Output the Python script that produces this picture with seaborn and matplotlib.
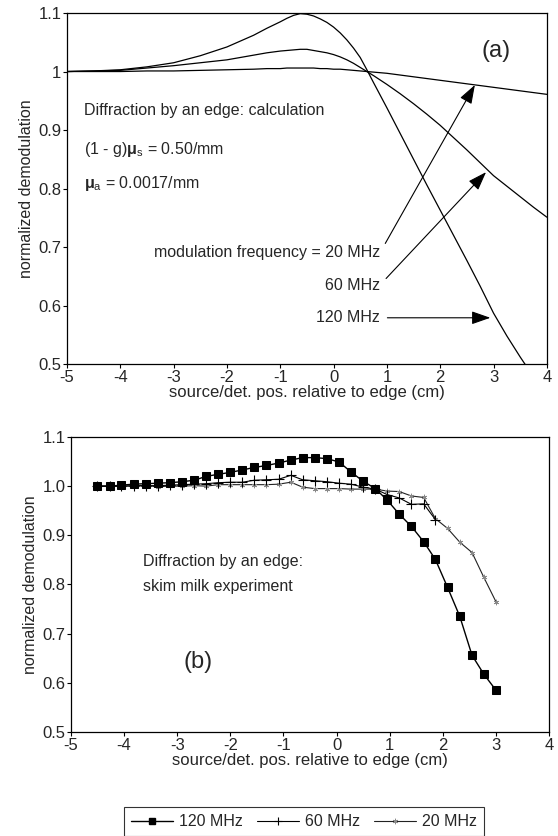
import matplotlib
matplotlib.use('Agg')
import matplotlib.pyplot as plt
import seaborn as sns
from matplotlib.lines import Line2D

# (a) calculated curves
calc_x = [-5, -4.5, -4, -3.5, -3, -2.5, -2, -1.5, -1.25, -1, -0.875, -0.75, -0.625, -0.5,
          -0.375, -0.25, -0.125, 0, 0.125, 0.25, 0.375, 0.5, 0.625, 0.75, 1, 1.25, 1.5, 1.75,
          2, 2.25, 2.5, 2.75, 3, 3.25, 3.5, 3.75, 4]
calc_120 = [1.000, 1.001, 1.003, 1.008, 1.015, 1.027, 1.042, 1.062, 1.074, 1.085, 1.091, 1.096,
            1.099, 1.098, 1.095, 1.090, 1.084, 1.076, 1.066, 1.054, 1.040, 1.024, 1.003, 0.981,
            0.938, 0.894, 0.850, 0.806, 0.763, 0.720, 0.677, 0.633, 0.587, 0.548, 0.512, 0.478,
            0.445]
calc_60 = [1.000, 1.001, 1.002, 1.006, 1.010, 1.015, 1.020, 1.028, 1.032, 1.035, 1.036, 1.037,
           1.038, 1.038, 1.036, 1.034, 1.032, 1.029, 1.025, 1.020, 1.014, 1.007, 1.000, 0.993,
           0.978, 0.962, 0.945, 0.927, 0.908, 0.887, 0.866, 0.844, 0.822, 0.804, 0.786, 0.768,
           0.751]
calc_20 = [1.000, 1.000, 1.000, 1.001, 1.001, 1.002, 1.003, 1.004, 1.005, 1.005, 1.006, 1.006,
           1.006, 1.006, 1.006, 1.005, 1.005, 1.004, 1.004, 1.003, 1.002, 1.001, 1.000, 0.999,
           0.997, 0.994, 0.991, 0.988, 0.985, 0.982, 0.979, 0.976, 0.973, 0.970, 0.967, 0.964,
           0.961]

# (b) skim milk experiment
exp_x = [-4.50, -4.27, -4.05, -3.82, -3.59, -3.36, -3.14, -2.91, -2.68, -2.45, -2.23, -2.00,
         -1.77, -1.55, -1.32, -1.09, -0.86, -0.64, -0.41, -0.18, 0.05, 0.27, 0.50, 0.73, 0.95,
         1.18, 1.41, 1.64, 1.86, 2.09, 2.32, 2.55, 2.77, 3.00]
exp_120 = [1.000, 1.000, 1.002, 1.004, 1.005, 1.006, 1.007, 1.009, 1.012, 1.020, 1.024, 1.028,
           1.033, 1.038, 1.042, 1.047, 1.053, 1.058, 1.058, 1.056, 1.049, 1.029, 1.010, 0.995,
           0.972, 0.943, 0.918, 0.887, 0.851, 0.794, 0.735, 0.656, 0.618, 0.585]
# the 60 MHz series stops at 1.86 cm
exp_x_60 = [-4.50, -4.27, -4.05, -3.82, -3.59, -3.36, -3.14, -2.91, -2.68, -2.45, -2.23, -2.00,
            -1.77, -1.55, -1.32, -1.09, -0.86, -0.64, -0.41, -0.18, 0.05, 0.27, 0.50, 0.73,
            0.95, 1.18, 1.41, 1.64, 1.86]
exp_60 = [1.000, 1.000, 1.000, 1.001, 1.001, 1.001, 1.002, 1.003, 1.004, 1.005, 1.007, 1.008,
          1.008, 1.012, 1.013, 1.014, 1.022, 1.013, 1.011, 1.009, 1.006, 1.004, 0.998, 0.994,
          0.983, 0.976, 0.963, 0.964, 0.932]
exp_20 = [1.000, 1.000, 1.000, 1.000, 1.001, 0.999, 1.000, 1.000, 1.001, 1.000, 1.003, 1.003,
          1.003, 1.003, 1.003, 1.004, 1.008, 0.998, 0.995, 0.995, 0.995, 0.994, 0.994, 0.994,
          0.990, 0.989, 0.980, 0.977, 0.934, 0.914, 0.886, 0.865, 0.815, 0.765]

x_ticks = [-5, -4, -3, -2, -1, 0, 1, 2, 3, 4]
y_ticks = [0.5, 0.6, 0.7, 0.8, 0.9, 1.0, 1.1]
y_labels_a = ['0.5', '0.6', '0.7', '0.8', '0.9', '1', '1.1']
y_labels_b = ['0.5', '0.6', '0.7', '0.8', '0.9', '1.0', '1.1']

sns.set_theme(style='ticks')
plt.rcParams['font.family'] = ['Liberation Sans', 'DejaVu Sans']
plt.rcParams['mathtext.fontset'] = 'custom'
plt.rcParams['mathtext.rm'] = 'Liberation Sans'
plt.rcParams['mathtext.it'] = 'Liberation Sans:italic'
plt.rcParams['mathtext.bf'] = 'Liberation Sans:bold'

fig = plt.figure(figsize=(5.58, 8.36), dpi=100)
ax1 = fig.add_axes([0.120, 0.5646, 0.860, 0.4198])
ax2 = fig.add_axes([0.127, 0.1244, 0.857, 0.3529])

for ys in [calc_120, calc_60, calc_20]:
    sns.lineplot(x=calc_x, y=ys, ax=ax1, color='black', linewidth=0.9, sort=False)

asterisk = (6, 2, 0)
sns.lineplot(x=exp_x, y=exp_20, ax=ax2, color='#222222', linewidth=0.8, marker=asterisk,
             markersize=4, markeredgewidth=0.5, markeredgecolor='#888888', sort=False)
sns.lineplot(x=exp_x_60, y=exp_60, ax=ax2, color='black', linewidth=0.8, marker='+',
             markersize=7, markeredgewidth=0.8, markeredgecolor='black', sort=False)
sns.lineplot(x=exp_x, y=exp_120, ax=ax2, color='black', linewidth=1.0, marker='s',
             markersize=5.5, markeredgecolor='black', markerfacecolor='black', sort=False)

for ax, ylab in [(ax1, y_labels_a), (ax2, y_labels_b)]:
    ax.set_xlim(-5, 4)
    ax.set_ylim(0.5, 1.1)
    ax.set_xticks(x_ticks)
    ax.set_xticklabels([str(t) for t in x_ticks])
    ax.set_yticks(y_ticks)
    ax.set_yticklabels(ylab)
    ax.tick_params(axis='both', labelsize=12, length=3, width=0.8, color='black',
                   direction='out', pad=1)
    ax.set_xlabel('source/det. pos. relative to edge (cm)', fontsize=12, labelpad=0)
    ax.set_ylabel('normalized demodulation', fontsize=11.5, labelpad=3)
    for s in ax.spines.values():
        s.set_visible(True)
        s.set_color('black')
        s.set_linewidth(0.9)
    if ax.get_legend():
        ax.get_legend().remove()

# annotations (a)
ax1.text(3.05, 1.035, '(a)', fontsize=17, ha='center', va='center')
ax1.text(-4.68, 0.934, 'Diffraction by an edge: calculation', fontsize=11.5, va='center')
ax1.text(-4.68, 0.866, r'(1 - g)$\mathbf{\mu}_\mathrm{s}$ = 0.50/mm', fontsize=11.5, va='center')
ax1.text(-4.68, 0.809, r'$\mathbf{\mu}_\mathrm{a}$ = 0.0017/mm', fontsize=11.5, va='center')
arrow = dict(arrowstyle='-|>,head_length=1.0,head_width=0.35', color='black', lw=0.8,
             shrinkA=3, shrinkB=0, relpos=(1.0, 0.5))
ax1.annotate('modulation frequency = 20 MHz', xy=(2.65, 0.977), xytext=(0.87, 0.690),
             fontsize=11.5, ha='right', va='center', arrowprops=arrow)
ax1.annotate('60 MHz', xy=(2.86, 0.828), xytext=(0.87, 0.635),
             fontsize=11.5, ha='right', va='center', arrowprops=arrow)
ax1.annotate('120 MHz', xy=(2.94, 0.579), xytext=(0.87, 0.579),
             fontsize=11.5, ha='right', va='center', arrowprops=arrow)

# annotations (b)
ax2.text(-3.64, 0.846, 'Diffraction by an edge:', fontsize=11.5, va='center')
ax2.text(-3.64, 0.795, 'skim milk experiment', fontsize=11.5, va='center')
ax2.text(-2.6, 0.642, '(b)', fontsize=17, ha='center', va='center')

handles = [
    Line2D([], [], color='black', lw=1.0, marker='s', markersize=5, markerfacecolor='black'),
    Line2D([], [], color='black', lw=0.8, marker='+', markersize=6, markeredgewidth=0.8),
    Line2D([], [], color='#222222', lw=0.8, marker=asterisk, markersize=4,
           markeredgewidth=0.5, markeredgecolor='#888888'),
]
leg = fig.legend(handles, ['120 MHz', '60 MHz', '20 MHz'], loc='upper center',
                 bbox_to_anchor=(0.545, 0.0347), ncol=3, frameon=True, fancybox=False,
                 fontsize=11.5, numpoints=1, handlelength=2.6, handletextpad=0.4,
                 columnspacing=0.9, borderpad=0.45, borderaxespad=0)
leg.get_frame().set_edgecolor('black')
leg.get_frame().set_linewidth(0.8)

fig.savefig('out.png', dpi=100)
